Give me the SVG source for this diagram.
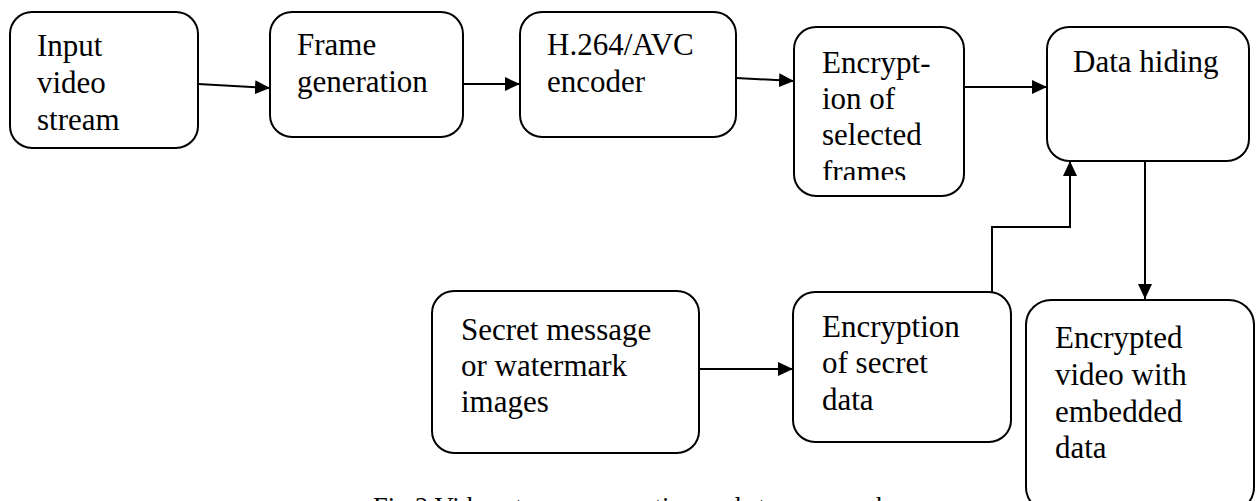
<svg xmlns="http://www.w3.org/2000/svg" width="1256" height="501" viewBox="0 0 1256 501">
<style>
.box{fill:#fff;stroke:#000;stroke-width:2}
.t{font-family:"Liberation Serif","Times New Roman",serif;font-size:31px;fill:#000}
.c{fill:none;stroke:#000;stroke-width:2}
</style>
<defs>
<marker id="ah" markerWidth="16" markerHeight="14" refX="15" refY="7" orient="auto" markerUnits="userSpaceOnUse">
<path d="M0,0 L15,7 L0,14 Z" fill="#000"/>
</marker>
<clipPath id="clip4"><rect x="794" y="27" width="170" height="153"/></clipPath>
</defs>
<rect width="1256" height="501" fill="#fff"/>
<g id="n1"><rect class="box" x="10" y="12" width="188" height="136" rx="22"/>
<text class="t" x="37" y="56">Input</text><text class="t" x="37" y="93">video</text><text class="t" x="37" y="130">stream</text></g>
<g id="n2"><rect class="box" x="270" y="12" width="193" height="125" rx="22"/>
<text class="t" x="297" y="55">Frame</text><text class="t" x="297" y="92">generation</text></g>
<g id="n3"><rect class="box" x="520" y="12" width="216" height="125" rx="22"/>
<text class="t" x="547" y="55">H.264/AVC</text><text class="t" x="547" y="92">encoder</text></g>
<g id="n4"><rect class="box" x="794" y="27" width="170" height="169" rx="22"/>
<g clip-path="url(#clip4)"><text class="t" x="822" y="73">Encrypt-</text><text class="t" x="822" y="109">ion of</text><text class="t" x="822" y="145">selected</text><text class="t" x="822" y="182">frames</text></g></g>
<g id="n5"><rect class="box" x="1047" y="27" width="202" height="134" rx="22"/>
<text class="t" x="1073" y="72">Data hiding</text></g>
<g id="n6"><rect class="box" x="432" y="291" width="267" height="162" rx="22"/>
<text class="t" x="461" y="340">Secret message</text><text class="t" x="461" y="376">or watermark</text><text class="t" x="461" y="412">images</text></g>
<g id="n7"><rect class="box" x="793" y="292" width="218" height="150" rx="22"/>
<text class="t" x="822" y="337">Encryption</text><text class="t" x="822" y="373">of secret</text><text class="t" x="822" y="410">data</text></g>
<g id="n8"><rect class="box" x="1026" y="300" width="228" height="212" rx="25"/>
<text class="t" x="1055" y="348">Encrypted</text><text class="t" x="1055" y="385">video with</text><text class="t" x="1055" y="422">embedded</text><text class="t" x="1055" y="458">data</text></g>
<g id="connectors">
<line class="c" x1="198" y1="84" x2="270" y2="88" marker-end="url(#ah)"/>
<line class="c" x1="463" y1="84" x2="520" y2="84" marker-end="url(#ah)"/>
<line class="c" x1="736" y1="78" x2="794" y2="81" marker-end="url(#ah)"/>
<line class="c" x1="964" y1="87" x2="1047" y2="87" stroke-width="3" marker-end="url(#ah)"/>
<polyline class="c" points="992,292 992,227 1070,227 1070,161" stroke-width="1.5" marker-end="url(#ah)"/>
<line class="c" x1="1145" y1="161" x2="1145" y2="299" stroke-width="1.5" marker-end="url(#ah)"/>
<line class="c" x1="699" y1="369" x2="793" y2="369" marker-end="url(#ah)"/>
</g>
<text class="t" x="373" y="516" style="font-size:26.6px">Fig.2 Video stream encryption and steganography</text>
</svg>
